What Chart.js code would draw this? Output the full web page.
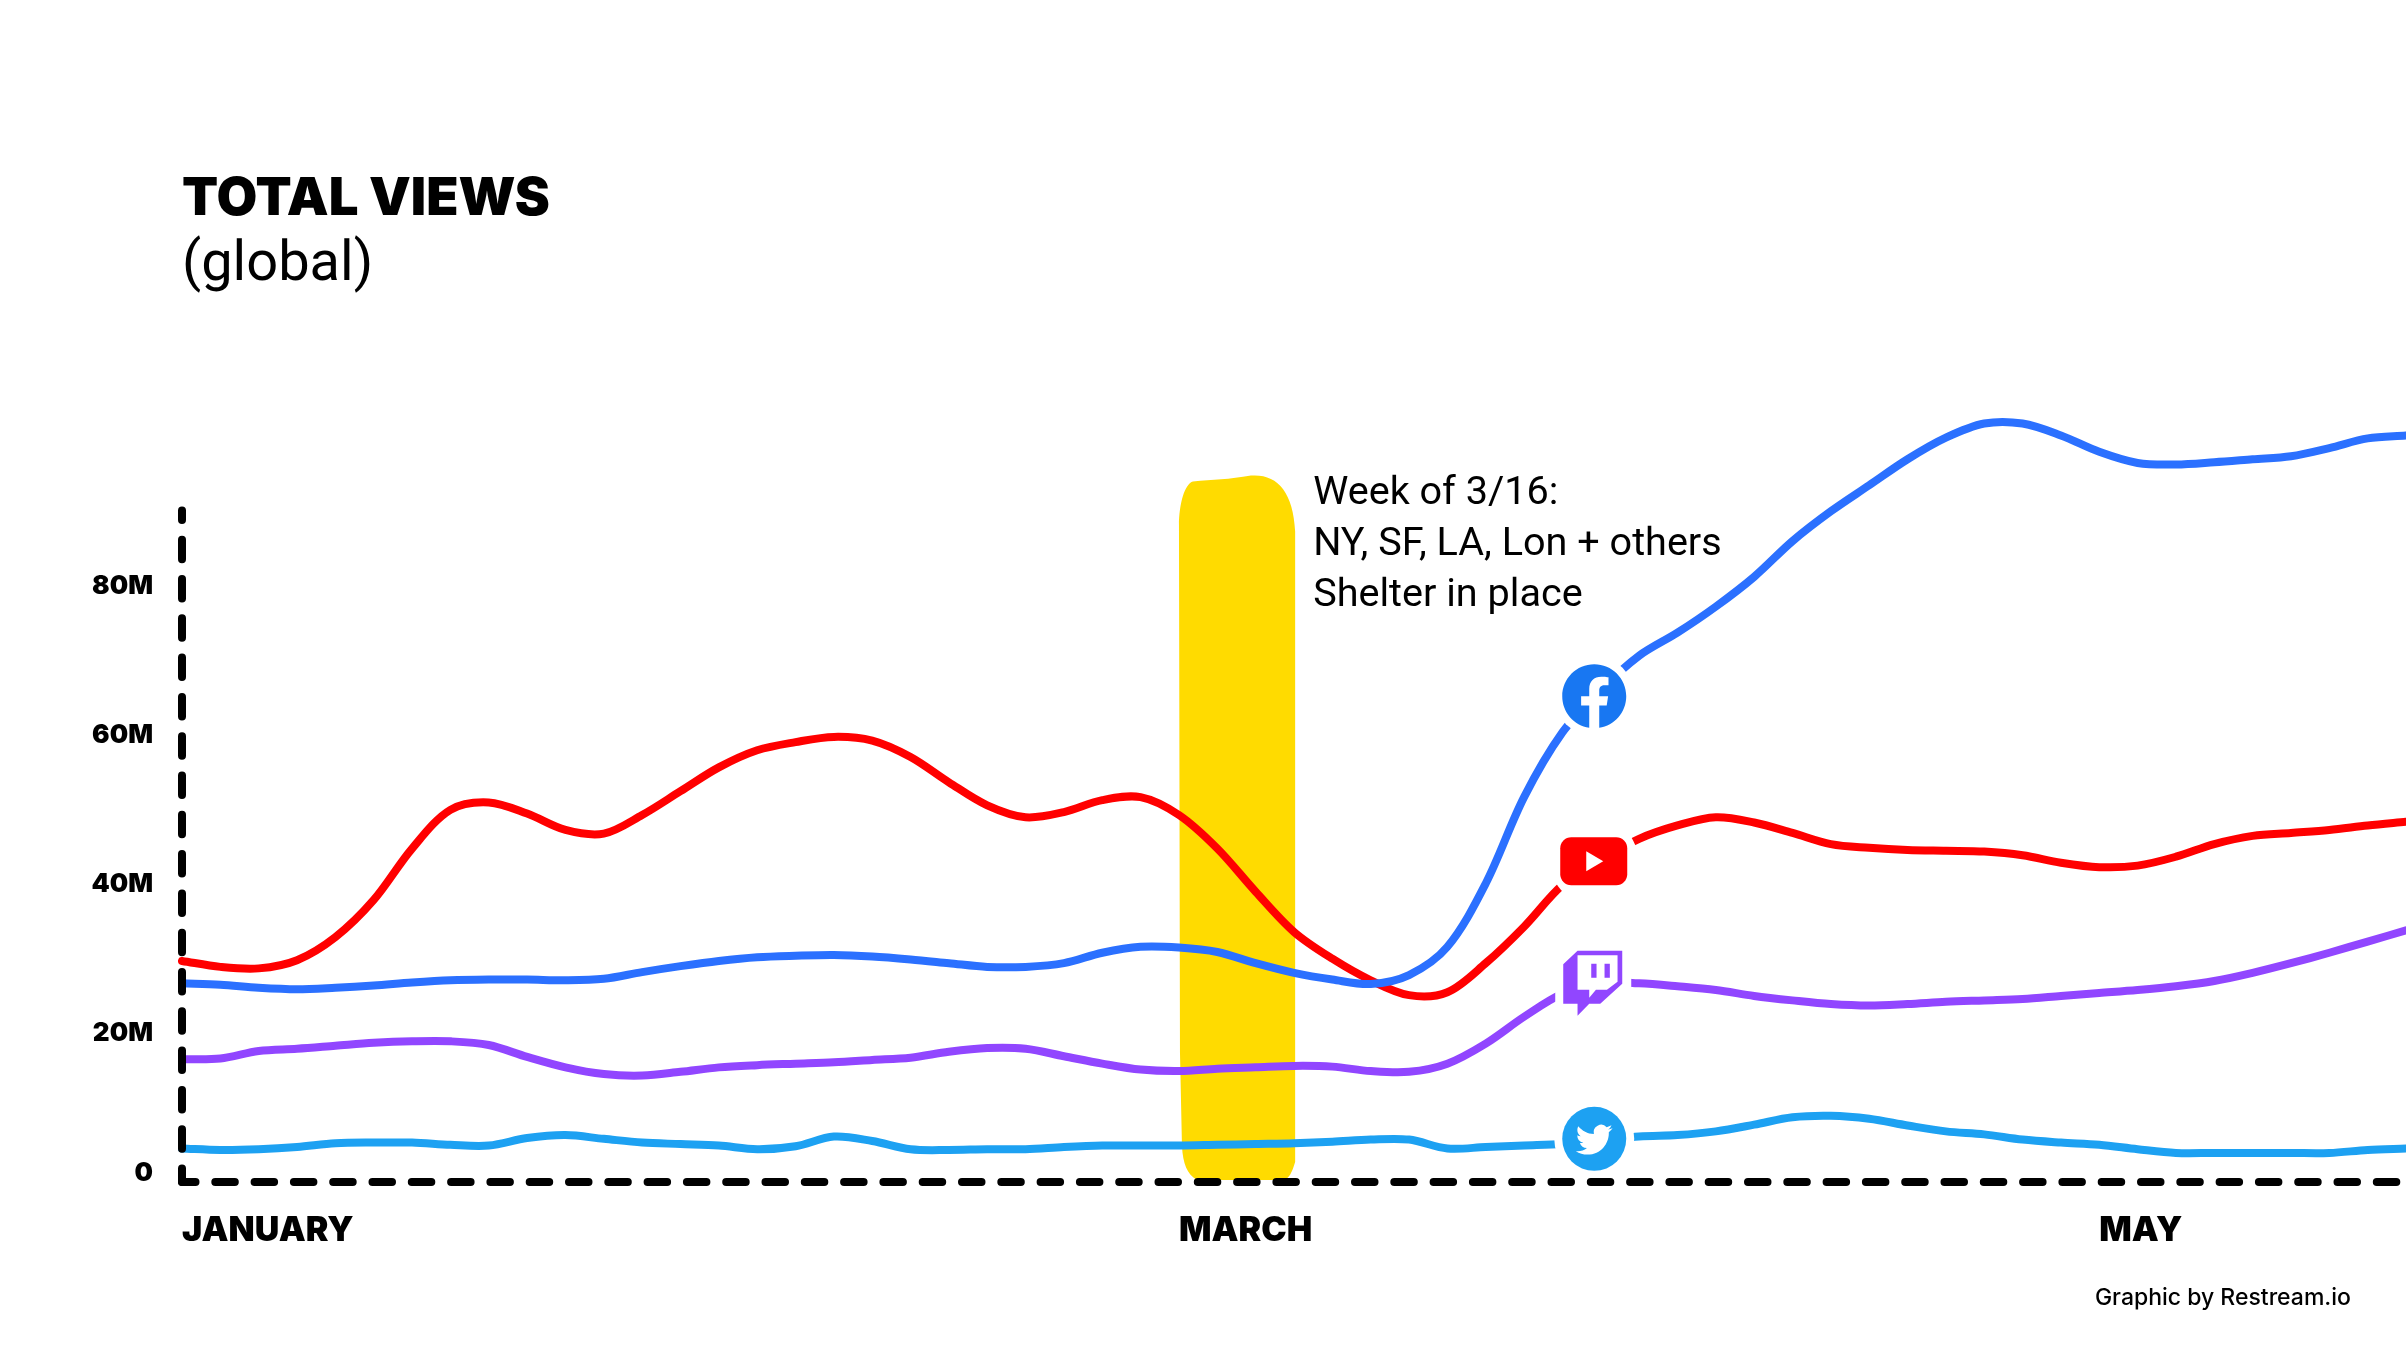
<!DOCTYPE html>
<html>
<head>
<meta charset="utf-8">
<title>Total views</title>
<script src="https://cdn.jsdelivr.net/npm/chart.js@4"></script>
<style>
  html, body { margin: 0; padding: 0; background: #fff; }
  canvas { display: block; }
</style>
</head>
<body>
<canvas id="viewsChart" width="2406" height="1349"></canvas>
<script>
// sample columns, only the month starts carry a label
const categories = [
    "JANUARY", "", "", "", "", "", "", "", "", "", "", "", "", "", "", "", "", "", "", "", "", "", "", "", "", "",
    "MARCH", "", "", "", "", "", "", "", "", "", "", "", "", "", "", "", "", "", "", "", "", "", "", "",
    "MAY", "", "", "", "", "", "", "", ""
];

// millions of views
const facebook = [
    26.7, 26.5, 26.1, 25.9, 26.1, 26.4, 26.8, 27.1, 27.2, 27.2, 27.1, 27.3, 28.2, 29.0,
    29.7, 30.2, 30.4, 30.5, 30.3, 29.9, 29.4, 28.9, 28.9, 29.4, 30.8, 31.6, 31.5,
    30.9, 29.4, 28.1, 27.2, 26.6, 27.8, 31.6, 40.1, 51.7, 60.4, 66.1, 70.7, 73.8,
    77.3, 81.3, 86.1, 90.1, 93.6, 97.1, 100.0, 101.9, 101.9, 100.3, 98.1, 96.6, 96.4, 96.7, 97.1, 97.5, 98.6, 99.9, 100.3
];
const youtube = [
    29.7, 28.9, 28.7, 29.8, 32.9, 37.9, 44.8, 50.0, 51.0, 49.5, 47.3, 46.8, 49.3, 52.5,
    55.7, 58.0, 59.1, 59.8, 59.3, 57.1, 53.7, 50.6, 49.0, 49.7, 51.3, 51.7, 49.3,
    44.8, 39.0, 33.6, 30.0, 27.1, 25.1, 25.5, 29.4, 34.3, 39.9, 43.3, 46.1, 47.9,
    49.0, 48.3, 46.9, 45.4, 44.9, 44.6, 44.5, 44.4, 43.9, 42.9, 42.3, 42.5, 43.7, 45.4, 46.5, 46.9, 47.3, 47.9, 48.4
];
const twitch = [
    16.5, 16.6, 17.6, 17.9, 18.3, 18.7, 18.9, 18.9, 18.4, 16.8, 15.4, 14.5, 14.3, 14.8,
    15.4, 15.7, 15.9, 16.1, 16.4, 16.7, 17.5, 18.0, 17.9, 16.9, 15.9, 15.1, 14.9,
    15.2, 15.4, 15.6, 15.5, 14.9, 14.8, 15.9, 18.6, 22.2, 25.3, 26.8, 26.7, 26.3,
    25.8, 25.0, 24.4, 23.9, 23.7, 23.9, 24.2, 24.4, 24.6, 25.0, 25.4, 25.8, 26.3, 27.0, 28.1, 29.4, 30.8, 32.3, 33.8
];
const twitter = [
    4.5, 4.3, 4.4, 4.7, 5.2, 5.3, 5.3, 5.0, 4.9, 5.9, 6.3, 5.8, 5.3, 5.1,
    4.9, 4.4, 4.8, 6.1, 5.5, 4.4, 4.3, 4.4, 4.4, 4.7, 4.9, 4.9, 4.9,
    5.0, 5.1, 5.2, 5.4, 5.7, 5.7, 4.5, 4.7, 4.9, 5.1, 5.5, 6.1, 6.3,
    6.8, 7.7, 8.7, 8.9, 8.5, 7.6, 6.8, 6.4, 5.7, 5.3, 5.0, 4.4, 3.9, 3.9, 3.9, 3.9, 3.9, 4.3, 4.5
];

const yTicks = [0, 20, 40, 60, 80];
const noteLines = ["Week of 3/16:", "NY, SF, LA, Lon + others", "Shelter in place"];

const BLACK_FONT = "Inter";
const TEXT_FONT = "Roboto";

const fbPath = new Path2D("M24 12.073c0-6.627-5.373-12-12-12s-12 5.373-12 12c0 5.99 4.388 10.954 10.125 11.854v-8.385H7.078v-3.47h3.047V9.43c0-3.007 1.792-4.669 4.533-4.669 1.312 0 2.686.235 2.686.235v2.953H15.83c-1.491 0-1.956.925-1.956 1.874v2.25h3.328l-.532 3.47h-2.796v8.385C19.612 23.027 24 18.062 24 12.073z");
const birdPath = new Path2D("M23.953 4.57a10 10 0 01-2.825.775 4.958 4.958 0 002.163-2.723c-.951.555-2.005.959-3.127 1.184a4.92 4.92 0 00-8.384 4.482C7.69 8.095 4.067 6.13 1.64 3.162a4.822 4.822 0 00-.666 2.475c0 1.71.87 3.213 2.188 4.096a4.904 4.904 0 01-2.228-.616v.06a4.923 4.923 0 003.946 4.827 4.996 4.996 0 01-2.212.085 4.936 4.936 0 004.604 3.417 9.867 9.867 0 01-6.102 2.105c-.39 0-.779-.023-1.17-.067a13.995 13.995 0 007.557 2.209c9.053 0 13.998-7.496 13.998-13.985 0-.21 0-.42-.015-.63A9.935 9.935 0 0024 4.59z");

function polygon(ctx, pts) {
    ctx.beginPath();
    pts.forEach((p, i) => i ? ctx.lineTo(p[0], p[1]) : ctx.moveTo(p[0], p[1]));
    ctx.closePath();
}

/* =========================
   yellow marker behind the lines
   ========================= */
const highlightBand = {
    id: "highlightBand",
    beforeDatasetsDraw(chart) {
        const { ctx, scales: { x, y } } = chart;
        const l = x.getPixelForValue(26);
        const r = x.getPixelForValue(29.03);
        const t = y.getPixelForValue(94.9);
        const b = y.getPixelForValue(0);
        ctx.save();
        ctx.fillStyle = "#ffdb00";
        ctx.beginPath();
        ctx.moveTo(l + 18, b - 2);
        ctx.bezierCurveTo(l + 8, b - 8, l + 4, b - 18, l + 3, b - 36);
        ctx.lineTo(l + 1, b - 130);
        ctx.lineTo(l, t + 50);
        ctx.bezierCurveTo(l, t + 28, l + 6, t + 8, l + 14, t + 6);
        ctx.bezierCurveTo(l + 34, t + 4, l + 50, t + 4, l + 72, t);
        ctx.bezierCurveTo(l + 98, t - 2, r - 2, t + 16, r, t + 56);
        ctx.lineTo(r, b - 20);
        ctx.bezierCurveTo(r - 3, b - 10, r - 6, b - 3, r - 12, b - 2);
        ctx.closePath();
        ctx.fill();
        ctx.restore();
    }
};

/* =========================
   dashed axes, icons and loose text on top
   ========================= */
const overlays = {
    id: "overlays",
    afterDatasetsDraw(chart) {
        const { ctx, scales: { x, y }, chartArea } = chart;
        const ox = x.getPixelForValue(0);
        const oy = y.getPixelForValue(0);

        // white gaps around the icons
        const iconX = x.getPixelForValue(36.83);
        const fbY = y.getPixelForValue(65.3);
        const ytY = y.getPixelForValue(43.1);
        const twY = y.getPixelForValue(26.7);
        const tiY = y.getPixelForValue(5.8);

        ctx.save();
        ctx.fillStyle = "#fff";
        [[fbY, 40], [ytY, 44], [tiY, 40]].forEach(([cy, rad]) => {
            ctx.beginPath();
            ctx.arc(iconX, cy, rad, 0, Math.PI * 2);
            ctx.fill();
        });
        ctx.fillRect(iconX - 39, twY - 40, 76, 80);

        // facebook
        ctx.save();
        ctx.translate(iconX - 32, fbY - 32);
        ctx.scale(64 / 24, 64 / 24);
        ctx.fillStyle = "#1877f2";
        ctx.fill(fbPath);
        ctx.restore();

        // youtube
        ctx.fillStyle = "#ff0000";
        ctx.beginPath();
        ctx.roundRect(iconX - 34, ytY - 24, 67, 48, 11);
        ctx.fill();
        ctx.fillStyle = "#fff";
        polygon(ctx, [[iconX - 8, ytY - 10], [iconX + 9, ytY], [iconX - 8, ytY + 10]]);
        ctx.fill();

        // twitch
        const tx = iconX - 31;
        const ty = twY - 32.5;
        ctx.fillStyle = "#9146ff";
        polygon(ctx, [[tx, ty + 13.6], [tx + 14.3, ty], [tx + 59, ty], [tx + 59, ty + 33], [tx + 37, ty + 53],
            [tx + 26, ty + 53], [tx + 14.3, ty + 65], [tx + 14.3, ty + 53], [tx, ty + 53]]);
        ctx.fill();
        ctx.fillStyle = "#fff";
        polygon(ctx, [[tx + 14.3, ty + 4.6], [tx + 54.3, ty + 4.6], [tx + 54.3, ty + 31], [tx + 43.7, ty + 39], [tx + 32.7, ty + 39],
            [tx + 26, ty + 47], [tx + 26, ty + 39], [tx + 14.3, ty + 39]]);
        ctx.fill();
        ctx.fillStyle = "#9146ff";
        ctx.fillRect(tx + 28, ty + 13, 5.3, 14);
        ctx.fillRect(tx + 41.3, ty + 13, 5.3, 14);

        // twitter
        ctx.fillStyle = "#1da1f2";
        ctx.beginPath();
        ctx.arc(iconX, tiY, 32, 0, Math.PI * 2);
        ctx.fill();
        ctx.save();
        ctx.translate(iconX - 18.4, tiY - 17.5);
        ctx.scale(1.53, 1.53);
        ctx.fillStyle = "#fff";
        ctx.fill(birdPath);
        ctx.restore();

        // axes, both run out of the corner
        ctx.strokeStyle = "#000";
        ctx.lineWidth = 8;
        ctx.lineCap = "round";
        ctx.setLineDash([19.5, 19.8]);
        ctx.lineDashOffset = 6;
        ctx.beginPath();
        ctx.moveTo(ox, oy);
        ctx.lineTo(ox, y.getPixelForValue(90.2));
        ctx.stroke();
        ctx.beginPath();
        ctx.moveTo(ox, oy);
        ctx.lineTo(chartArea.right, oy);
        ctx.stroke();
        ctx.setLineDash([]);

        // lockdown note
        ctx.fillStyle = "#000";
        ctx.font = "400 39.6px " + TEXT_FONT;
        ctx.textBaseline = "middle";
        ctx.textAlign = "left";
        noteLines.forEach((line, i) => {
            ctx.fillText(line, x.getPixelForValue(29.5), y.getPixelForValue(92.4) + i * 51);
        });

        // credit
        ctx.font = "500 23px Inter";
        ctx.textAlign = "right";
        ctx.fillText("Graphic by Restream.io", 2351, 1298);
        ctx.restore();
    }
};

function lineSet(label, data, color) {
    return {
        label: label,
        data: data,
        borderColor: color,
        backgroundColor: color,
        borderWidth: 8,
        borderCapStyle: "round",
        pointRadius: 0,
        tension: 0.33,
        clip: false
    };
}

new Chart(document.getElementById("viewsChart").getContext("2d"), {
    type: "line",
    data: {
        labels: categories,
        datasets: [
            lineSet("Facebook", facebook, "#2b70ff"),
            lineSet("YouTube", youtube, "#ff0000"),
            lineSet("Twitch", twitch, "#9146ff"),
            lineSet("Twitter", twitter, "#1da1f2")
        ]
    },
    options: {
        responsive: false,
        animation: false,
        layout: { padding: 0 },
        plugins: {
            legend: { display: false },
            tooltip: { enabled: false },
            title: {
                display: true,
                text: "TOTAL VIEWS",
                align: "start",
                fullSize: false,
                color: "#000",
                font: { family: BLACK_FONT, size: 52.7, weight: "900", lineHeight: 1.2 },
                padding: { top: 168, bottom: 0 }
            },
            subtitle: {
                display: true,
                text: "(global)",
                align: "start",
                fullSize: false,
                color: "#000",
                font: { family: TEXT_FONT, size: 56, weight: "400", lineHeight: 0.92 },
                padding: { top: 9, bottom: 0 }
            }
        },
        scales: {
            x: {
                // tick length stands in for the gap, tick padding would also pad the sides
                grid: { display: false, drawTicks: true, tickLength: 28 },
                border: { display: false },
                afterFit: (s) => { s.height = 167; },
                ticks: {
                    autoSkip: false,
                    maxRotation: 0,
                    minRotation: 0,
                    align: "start",
                    padding: 0,
                    color: "#000",
                    font: { family: BLACK_FONT, size: 34, weight: "900" }
                }
            },
            y: {
                min: 0,
                max: 119.6,
                grid: { display: false, drawTicks: false },
                border: { display: false },
                afterFit: (s) => { s.width = 182; },
                afterBuildTicks: (s) => { s.ticks = yTicks.map((v) => ({ value: v })); },
                ticks: {
                    padding: 29,
                    color: "#000",
                    // the zero sits a bit above the axis in the original
                    callback: (v) => (v === 0 ? ["0", ""] : v + "M"),
                    font: (c) => ({
                        family: BLACK_FONT,
                        size: 26,
                        weight: "900",
                        lineHeight: c.tick && c.tick.value === 0 ? 0.65 : 1.2
                    })
                }
            }
        }
    },
    plugins: [highlightBand, overlays]
});
</script>
</body>
</html>
